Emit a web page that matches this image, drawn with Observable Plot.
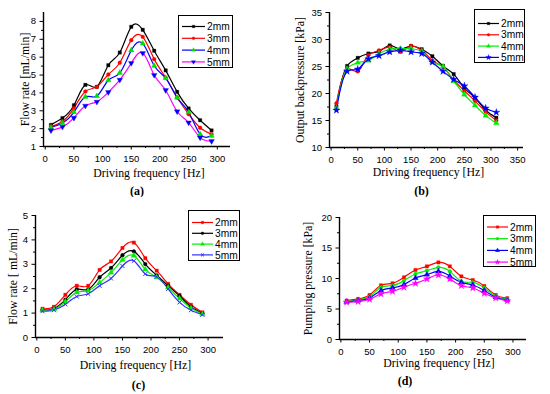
<!DOCTYPE html>
<html><head><meta charset="utf-8">
<script src="https://cdn.jsdelivr.net/npm/d3@7"></script>
<script src="https://cdn.jsdelivr.net/npm/@observablehq/plot@0.6"></script>
<style>
body{margin:0;background:#fff;}
#fig{position:relative;width:550px;height:394px;overflow:hidden;background:#fff;}
.panel{position:absolute;width:275px;height:197px;}
.legend{position:absolute;border:1px solid #000;background:#fff;box-sizing:border-box;}
.legend svg{display:block;overflow:visible;}
</style></head><body><div id="fig"></div>
<script>
// ---------- data ----------
const freq15 = [10,30,50,70,90,110,130,150,170,190,210,230,250,270,290];
const freq16 = [10,30,50,70,90,110,130,150,170,190,210,230,250,270,290,310];
const seriesNames = ["2mm","3mm","4mm","5mm"];

// (a) flow rate [mL/min]
const aFlow2 = [2.21,2.59,3.31,4.45,4.34,5.55,6.26,7.70,7.53,6.36,5.26,4.06,3.13,2.47,1.90];
const aFlow3 = [2.12,2.40,3.15,4.08,4.34,5.03,5.69,6.95,7.14,5.89,4.86,3.74,2.81,2.05,1.69];
const aFlow4 = [2.06,2.31,2.92,3.78,3.82,4.71,5.12,6.38,6.77,5.52,4.83,3.74,2.92,1.69,1.60];
const aFlow5 = [1.90,2.10,2.60,3.28,3.50,4.04,4.73,5.67,6.23,5.00,4.15,2.96,2.34,1.50,1.30];

// (b) output backpressure [kPa]
const bPres2 = [17.6,25.1,26.6,27.4,27.8,28.9,28.2,28.8,28.2,26.9,25.1,23.6,21.0,19.2,16.9,15.5];
const bPres3 = [18.2,24.5,24.1,27.1,28.0,28.6,27.7,28.8,28.0,26.1,24.9,22.5,20.5,18.6,16.6,15.0];
const bPres4 = [17.3,24.6,25.7,26.1,27.4,28.2,28.3,28.3,27.8,25.8,25.0,22.3,19.8,17.8,15.9,14.5];
const bPres5 = [16.9,24.1,24.5,26.4,27.0,27.7,28.0,27.7,27.4,25.8,24.1,22.6,21.4,19.3,17.3,16.5];

// (c) flow rate [mL/min]
const cFlow2 = [1.18,1.26,1.75,2.12,2.12,2.77,3.12,3.67,3.89,3.25,2.74,2.20,1.75,1.34,1.03];
const cFlow3 = [1.12,1.19,1.55,1.97,1.97,2.47,2.85,3.37,3.53,3.01,2.55,2.12,1.70,1.26,0.99];
const cFlow4 = [1.12,1.16,1.47,1.85,1.92,2.25,2.66,3.18,3.36,2.79,2.47,2.05,1.60,1.21,0.96];
const cFlow5 = [1.08,1.12,1.36,1.68,1.79,2.12,2.42,2.93,3.14,2.60,2.49,1.99,1.44,1.12,0.93];

// (d) pumping pressure [kPa]
const dPres2 = [6.38,6.65,7.30,8.88,9.21,10.19,11.39,11.99,12.64,11.99,10.35,9.75,8.77,7.30,6.76];
const dPres3 = [6.21,6.49,7.03,8.56,8.83,9.65,10.74,11.28,11.83,11.17,9.54,9.37,8.45,7.14,6.65];
const dPres4 = [6.16,6.38,6.81,8.01,8.45,8.99,10.08,10.63,11.17,10.41,9.37,8.94,8.01,6.92,6.49];
const dPres5 = [6.10,6.21,6.59,7.47,7.90,8.56,9.21,9.92,10.57,9.92,8.83,8.45,7.57,6.81,6.32];

// tick labels
const xTicks300 = [0,50,100,150,200,250,300];
const xTicks350 = [0,50,100,150,200,250,300,350];
const yTicksA = [1,2,3,4,5,6,7,8];
const yTicksB = [10,15,20,25,30,35];
const yTicksC = [0,1,2,3,4,5];
const yTicksD = [0,5,10,15,20];

// ---------- drawing ----------
const fig = document.getElementById("fig");
const SANS = "Liberation Sans, Arial, sans-serif";
const SERIF = "Liberation Serif, Times New Roman, serif";

function minorOf(major){
  const out = [];
  for (let i = 0; i < major.length - 1; i++) out.push((major[i] + major[i+1]) / 2);
  return out;
}

function makePanel(cfg){
  const rows = [];
  cfg.series.forEach((s, i) => s.y.forEach((v, j) => rows.push({x: s.x[j], y: v, k: i})));
  const marks = [
    Plot.axisX(cfg.xTicks, {tickSize: 3.5, tickPadding: 5, label: null, fontSize: 9.5, fontFamily: SANS}),
    Plot.axisX(minorOf(cfg.xTicks), {tickSize: 2, tickFormat: () => "", label: null}),
    Plot.axisY(cfg.yTicks, {tickSize: 3.5, tickPadding: 4, label: null, fontSize: 9.5, fontFamily: SANS}),
    Plot.axisY(minorOf(cfg.yTicks), {tickSize: 2, tickFormat: () => "", label: null}),
    Plot.ruleX([cfg.xDomain[0]], {stroke: "#000", strokeWidth: 1.4}),
    Plot.ruleY([cfg.yDomain[0]], {stroke: "#000", strokeWidth: 1.4})
  ];
  cfg.series.forEach((s, i) => {
    const d = rows.filter(r => r.k === i);
    marks.push(Plot.line(d, {x: "x", y: "y", stroke: s.line, strokeWidth: 1.2, curve: cfg.curve}));
  });
  cfg.series.forEach((s, i) => {
    const d = rows.filter(r => r.k === i);
    marks.push(Plot.dot(d, {x: "x", y: "y", symbol: () => s.symbol, fill: s.strokeSym ? "none" : s.mark,
      stroke: s.mark, strokeWidth: s.strokeSym ? 1 : 0.3, r: s.r || 1.9, rotate: s.rotate || 0}));
  });
  marks.push(Plot.text([cfg.xLabel], {frameAnchor: "bottom", textAnchor: "middle", lineAnchor: "middle", dx: cfg.xlDx, dy: cfg.xlDy, fontFamily: SERIF, fontSize: 11.8, fill: "#000"}));
  marks.push(Plot.text([cfg.yLabel], {frameAnchor: "left", textAnchor: "middle", lineAnchor: "middle", dx: cfg.ylDx, rotate: -90, fontFamily: SERIF, fontSize: 11.8, fill: "#000"}));
  marks.push(Plot.text([cfg.caption], {frameAnchor: "bottom", textAnchor: "middle", lineAnchor: "middle", dx: cfg.capDx, dy: cfg.capDy, fontFamily: SERIF, fontSize: 12, fontWeight: "bold", fill: "#000"}));
  const p = Plot.plot({
    width: 275, height: 197,
    marginLeft: cfg.m[0], marginRight: cfg.m[1], marginTop: cfg.m[2], marginBottom: cfg.m[3],
    x: {domain: cfg.xDomain},
    y: {domain: cfg.yDomain},
    style: {background: "#fff", color: "#000", fontFamily: SANS, overflow: "visible"},
    marks
  });
  const div = document.createElement("div");
  div.className = "panel";
  div.style.left = cfg.ox + "px"; div.style.top = cfg.oy + "px";
  div.appendChild(p);
  fig.appendChild(div);

  // legend box
  const L = cfg.legend;
  const lg = document.createElement("div");
  lg.className = "legend";
  lg.style.left = L.x + "px"; lg.style.top = L.y + "px";
  lg.style.width = L.w + "px"; lg.style.height = L.h + "px";
  const svg = d3.create("svg").attr("width", L.w - 2).attr("height", L.h - 2);
  const symMap = {square: d3.symbolSquare, circle: d3.symbolCircle, triangle: d3.symbolTriangle,
    star: d3.symbolStar, diamond: d3.symbolDiamond, times: d3.symbolTimes};
  cfg.series.forEach((s, i) => {
    const yy = L.first + i * L.step;
    const g = svg.append("g");
    g.append("line").attr("x1", L.lx0).attr("x2", L.lx1).attr("y1", yy).attr("y2", yy)
      .attr("stroke", s.line).attr("stroke-width", 1.2);
    const r = (s.r || 1.9) * 0.75;
    g.append("path").attr("d", d3.symbol(symMap[s.symbol], Math.PI * r * r)())
      .attr("transform", `translate(${(L.lx0 + L.lx1) / 2},${yy}) rotate(${s.rotate || 0})`)
      .attr("fill", s.strokeSym ? "none" : s.mark).attr("stroke", s.mark)
      .attr("stroke-width", s.strokeSym ? 1 : 0.3);
    g.append("text").attr("x", L.lx1 + 2).attr("y", yy).attr("dy", "0.36em")
      .attr("font-family", SANS).attr("font-size", 10.2).text(s.name);
  });
  lg.appendChild(svg.node());
  fig.appendChild(lg);
}

// (a)
makePanel({
  ox: 0, oy: 0, m: [43, 45, 12, 51],
  xDomain: [-3, 323], yDomain: [1, 8.5], xTicks: xTicks300, yTicks: yTicksA,
  curve: "natural",
  xLabel: "Driving frequency [Hz]", yLabel: "Flow rate [mL/min]", caption: "(a)",
  xlDx: 12, xlDy: 27, ylDx: -18, capDx: 0, capDy: 45,
  series: [
    {name: seriesNames[0], x: freq15, y: aFlow2, line: "#000", mark: "#000", symbol: "square"},
    {name: seriesNames[1], x: freq15, y: aFlow3, line: "#ff0000", mark: "#ff0000", symbol: "circle"},
    {name: seriesNames[2], x: freq15, y: aFlow4, line: "#0000ff", mark: "#00e000", symbol: "triangle", r: 2.1},
    {name: seriesNames[3], x: freq15, y: aFlow5, line: "#ff00ff", mark: "#0000ff", symbol: "triangle", rotate: 180, r: 2.1}
  ],
  legend: {x: 178, y: 15, w: 55, h: 53, first: 10.5, step: 11.8, lx0: 3, lx1: 26}
});

// (b)
makePanel({
  ox: 275, oy: 0, m: [54, 27, 12, 50],
  xDomain: [-3, 361], yDomain: [10, 35], xTicks: xTicks350, yTicks: yTicksB,
  curve: "catmull-rom",
  xLabel: "Driving frequency [Hz]", yLabel: "Output backpressure [kPa]", caption: "(b)",
  xlDx: 2, xlDy: 25, ylDx: -29, capDx: -5, capDy: 44,
  series: [
    {name: seriesNames[0], x: freq16, y: bPres2, line: "#000", mark: "#000", symbol: "square"},
    {name: seriesNames[1], x: freq16, y: bPres3, line: "#ff0000", mark: "#ff0000", symbol: "circle"},
    {name: seriesNames[2], x: freq16, y: bPres4, line: "#00ee00", mark: "#00ee00", symbol: "triangle", r: 2.1},
    {name: seriesNames[3], x: freq16, y: bPres5, line: "#0000ff", mark: "#0000ff", symbol: "star", r: 2.3}
  ],
  legend: {x: 474, y: 9, w: 51, h: 54, first: 13.5, step: 11.3, lx0: 3, lx1: 24}
});

// (c)
makePanel({
  ox: 0, oy: 197, m: [35, 52, 18, 57],
  xDomain: [-2.3, 327], yDomain: [0, 5], xTicks: xTicks300, yTicks: yTicksC,
  curve: "natural",
  xLabel: "Driving frequency [Hz]", yLabel: "Flow rate [ mL/min]", caption: "(c)",
  xlDx: 6, xlDy: 28, ylDx: -22, capDx: 9, capDy: 48,
  series: [
    {name: seriesNames[0], x: freq15, y: cFlow2, line: "#ff0000", mark: "#ff0000", symbol: "square"},
    {name: seriesNames[1], x: freq15, y: cFlow3, line: "#000", mark: "#000", symbol: "circle"},
    {name: seriesNames[2], x: freq15, y: cFlow4, line: "#00ee00", mark: "#00ee00", symbol: "triangle", r: 2.1},
    {name: seriesNames[3], x: freq15, y: cFlow5, line: "#3333ff", mark: "#3333ff", symbol: "times", strokeSym: true, r: 2.0}
  ],
  legend: {x: 188, y: 210, w: 52, h: 51, first: 11.5, step: 10.8, lx0: 3, lx1: 24}
});

// (d)
makePanel({
  ox: 275, oy: 197, m: [64, 24, 20, 55],
  xDomain: [-2.4, 323.6], yDomain: [0, 20], xTicks: xTicks300, yTicks: yTicksD,
  curve: "natural",
  xLabel: "Driving frequency [Hz]", yLabel: "Pumping pressure [kPa]", caption: "(d)",
  xlDx: 6, xlDy: 24, ylDx: -31, capDx: -28, capDy: 42,
  series: [
    {name: seriesNames[0], x: freq15, y: dPres2, line: "#ff0000", mark: "#ff0000", symbol: "square"},
    {name: seriesNames[1], x: freq15, y: dPres3, line: "#00ee00", mark: "#00ee00", symbol: "circle"},
    {name: seriesNames[2], x: freq15, y: dPres4, line: "#0000ff", mark: "#0000ff", symbol: "triangle", r: 2.1},
    {name: seriesNames[3], x: freq15, y: dPres5, line: "#ff00ff", mark: "#ff00ff", symbol: "star", r: 2.3}
  ],
  legend: {x: 483, y: 215, w: 53, h: 52, first: 11, step: 11.7, lx0: 3, lx1: 24}
});
</script>
</body></html>
